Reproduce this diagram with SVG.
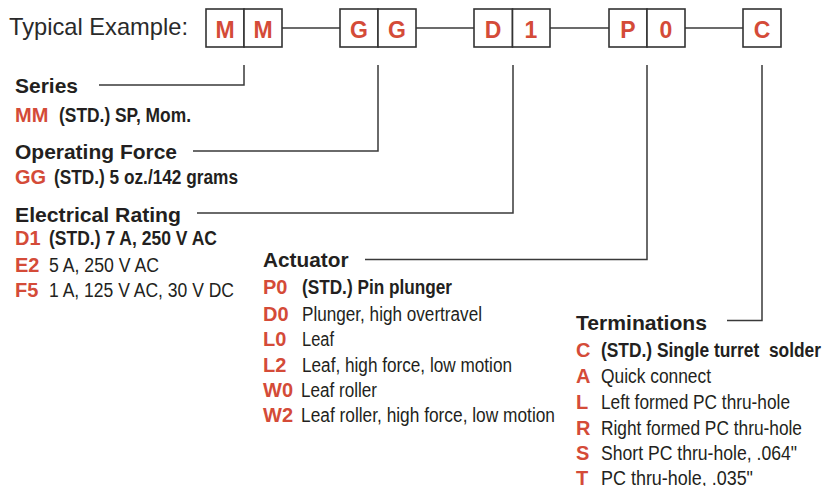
<svg xmlns="http://www.w3.org/2000/svg" width="824" height="486" viewBox="0 0 824 486">
<style>
.bg{fill:#ffffff}
.box{fill:#ffffff;stroke:#333333;stroke-width:1.6}
.bl{font-family:"Liberation Sans",Arial,sans-serif;font-weight:bold;font-size:23px;fill:#d44b38;text-anchor:middle}
.title{font-family:"Liberation Sans",Arial,sans-serif;font-size:24px;fill:#2a2a2a}
.hd{font-family:"Liberation Sans",Arial,sans-serif;font-weight:bold;font-size:21px;fill:#231f20}
.code{font-family:"Liberation Sans",Arial,sans-serif;font-weight:bold;font-size:20px;fill:#d44b38}
.d{font-family:"Liberation Sans",Arial,sans-serif;font-size:20px;fill:#231f20}
.db{font-family:"Liberation Sans",Arial,sans-serif;font-weight:bold;font-size:20px;fill:#231f20}
.ln{fill:none;stroke:#3a3a3a;stroke-width:1.5}
</style>
<rect class="bg" x="0" y="0" width="824" height="486"/>

<g id="connectors">
<line class="ln" x1="282" y1="28" x2="340" y2="28"/>
<line class="ln" x1="416" y1="28" x2="474" y2="28"/>
<line class="ln" x1="550" y1="28" x2="609" y2="28"/>
<line class="ln" x1="685" y1="28" x2="743" y2="28"/>
<polyline class="ln" points="99,85 244,85 244,65"/>
<polyline class="ln" points="193,151 378,151 378,65"/>
<polyline class="ln" points="197,213 513,213 513,65"/>
<polyline class="ln" points="365,259.5 647,259.5 647,65"/>
<polyline class="ln" points="727,320.5 762,320.5 762,65"/>
</g>

<g id="typical-example">
<text class="title" x="9" y="35" textLength="179" lengthAdjust="spacingAndGlyphs">Typical Example:</text>
</g>

<g id="box-MM">
<rect class="box" x="206" y="9" width="38" height="38"/>
<rect class="box" x="244" y="9" width="38" height="38"/>
<text class="bl" x="225" y="37.5">M</text>
<text class="bl" x="263" y="37.5">M</text>
</g>
<g id="box-GG">
<rect class="box" x="340" y="9" width="38" height="38"/>
<rect class="box" x="378" y="9" width="38" height="38"/>
<text class="bl" x="359" y="37.5">G</text>
<text class="bl" x="397" y="37.5">G</text>
</g>
<g id="box-D1">
<rect class="box" x="474" y="9" width="38.5" height="38"/>
<rect class="box" x="512.5" y="9" width="37.5" height="38"/>
<text class="bl" x="493" y="37.5">D</text>
<text class="bl" x="531" y="37.5">1</text>
</g>
<g id="box-P0">
<rect class="box" x="609" y="9" width="38" height="38"/>
<rect class="box" x="647" y="9" width="38" height="38"/>
<text class="bl" x="628" y="37.5">P</text>
<text class="bl" x="666" y="37.5">0</text>
</g>
<g id="box-C">
<rect class="box" x="743" y="9" width="38" height="38"/>
<text class="bl" x="762" y="37.5">C</text>
</g>

<g id="series">
<text class="hd" x="15" y="93" textLength="63" lengthAdjust="spacingAndGlyphs">Series</text>
<text class="code" x="15" y="121.5">MM</text>
<text class="db" x="59" y="121.5" textLength="132" lengthAdjust="spacingAndGlyphs">(STD.) SP, Mom.</text>
</g>

<g id="operating-force">
<text class="hd" x="15" y="158.5" textLength="162" lengthAdjust="spacingAndGlyphs">Operating Force</text>
<text class="code" x="15" y="184">GG</text>
<text class="db" x="54" y="184" textLength="184" lengthAdjust="spacingAndGlyphs">(STD.) 5 oz./142 grams</text>
</g>

<g id="electrical-rating">
<text class="hd" x="15" y="221.5" textLength="166" lengthAdjust="spacingAndGlyphs">Electrical Rating</text>
<text class="code" x="15" y="245">D1</text>
<text class="db" x="49" y="245" textLength="168" lengthAdjust="spacingAndGlyphs">(STD.) 7 A, 250 V AC</text>
<text class="code" x="15" y="271.5">E2</text>
<text class="d" x="49" y="271.5" textLength="110" lengthAdjust="spacingAndGlyphs">5 A, 250 V AC</text>
<text class="code" x="15" y="296.5">F5</text>
<text class="d" x="49" y="296.5" textLength="185" lengthAdjust="spacingAndGlyphs">1 A, 125 V AC, 30 V DC</text>
</g>

<g id="actuator">
<text class="hd" x="263" y="266.5" textLength="85.5" lengthAdjust="spacingAndGlyphs">Actuator</text>
<text class="code" x="263" y="294.3">P0</text>
<text class="db" x="302" y="294.3" textLength="150" lengthAdjust="spacingAndGlyphs">(STD.) Pin plunger</text>
<text class="code" x="263" y="321">D0</text>
<text class="d" x="302" y="321" textLength="180" lengthAdjust="spacingAndGlyphs">Plunger, high overtravel</text>
<text class="code" x="263" y="346">L0</text>
<text class="d" x="302" y="346" textLength="32" lengthAdjust="spacingAndGlyphs">Leaf</text>
<text class="code" x="263" y="371.7">L2</text>
<text class="d" x="302" y="371.7" textLength="210" lengthAdjust="spacingAndGlyphs">Leaf, high force, low motion</text>
<text class="code" x="263" y="396.7">W0</text>
<text class="d" x="301" y="396.7" textLength="76" lengthAdjust="spacingAndGlyphs">Leaf roller</text>
<text class="code" x="263" y="422.3">W2</text>
<text class="d" x="301" y="422.3" textLength="254" lengthAdjust="spacingAndGlyphs">Leaf roller, high force, low motion</text>
</g>

<g id="terminations">
<text class="hd" x="576" y="330" textLength="131" lengthAdjust="spacingAndGlyphs">Terminations</text>
<text class="code" x="576" y="356.5">C</text>
<text class="db" x="601" y="356.5" textLength="220" lengthAdjust="spacingAndGlyphs" xml:space="preserve">(STD.) Single turret  solder</text>
<text class="code" x="576" y="383">A</text>
<text class="d" x="601" y="383" textLength="110" lengthAdjust="spacingAndGlyphs">Quick connect</text>
<text class="code" x="576" y="409">L</text>
<text class="d" x="601" y="409" textLength="189" lengthAdjust="spacingAndGlyphs">Left formed PC thru-hole</text>
<text class="code" x="576" y="434.5">R</text>
<text class="d" x="601" y="434.5" textLength="201" lengthAdjust="spacingAndGlyphs">Right formed PC thru-hole</text>
<text class="code" x="576" y="459.5">S</text>
<text class="d" x="601" y="459.5" textLength="196" lengthAdjust="spacingAndGlyphs">Short PC thru-hole, .064"</text>
<text class="code" x="576" y="485">T</text>
<text class="d" x="601" y="485" textLength="152" lengthAdjust="spacingAndGlyphs">PC thru-hole, .035"</text>
</g>
</svg>
